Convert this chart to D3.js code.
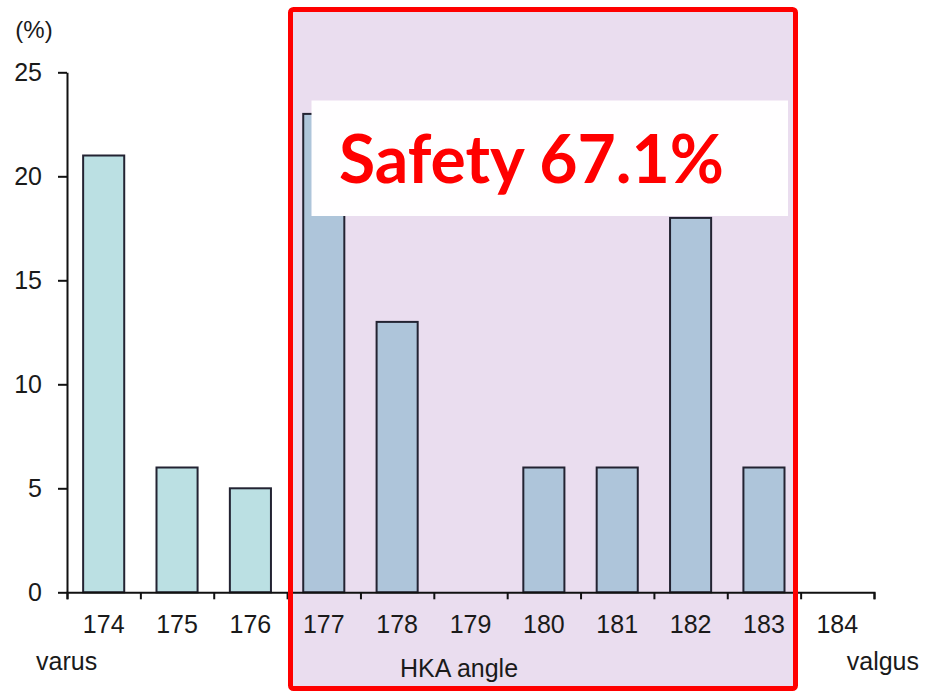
<!DOCTYPE html>
<html>
<head>
<meta charset="utf-8">
<script src="https://cdn.jsdelivr.net/npm/d3@7"></script>
<style>
  html, body { margin: 0; padding: 0; background: #fff; }
  svg { display: block; }
  .axis text { font-family: "Liberation Sans", Arial, sans-serif; font-size: 25px; fill: #1a1a1a; }
  .axis path, .axis line { stroke: #111; stroke-width: 2; }
</style>
</head>
<body>
<script>
// HKA angle distribution (percent of knees per angle)
const categories = ["174", "175", "176", "177", "178", "179", "180", "181", "182", "183", "184"];
const percents   = [21, 6, 5, 23, 13, 0, 6, 6, 18, 6, 0];
const safeRange  = ["177", "183"];          // angles counted as the safety zone
const yTicks     = [0, 5, 10, 15, 20, 25];
const safetyLabel = "Safety 67.1%";

const W = 925, H = 691;
const svg = d3.select("body").append("svg").attr("width", W).attr("height", H);

const x = d3.scaleBand().domain(categories).range([67, 874]).padding(0);
const y = d3.scaleLinear().domain([0, 25]).range([592.3, 72.3]);
const edges = d3.scaleLinear().domain([0, categories.length]).range(x.range());

const inSafe = c => +c >= +safeRange[0] && +c <= +safeRange[1];

// shaded safety zone
svg.append("rect")
  .attr("x", 290.5).attr("y", 9.5)
  .attr("width", 505).attr("height", 679)
  .attr("fill", "#EADDEF");

// bars
const barW = x.bandwidth() * 0.56;
svg.append("g").selectAll("rect")
  .data(categories.map((c, i) => ({ c, v: percents[i] })).filter(d => d.v > 0))
  .join("rect")
  .attr("x", d => x(d.c) + (x.bandwidth() - barW) / 2)
  .attr("y", d => y(d.v))
  .attr("width", barW)
  .attr("height", d => y(0) - y(d.v))
  .attr("fill", d => inSafe(d.c) ? "#AEC5DA" : "#BBE0E3")
  .attr("stroke", "#232332")
  .attr("stroke-width", 2);

// y axis
svg.append("g").attr("class", "axis")
  .attr("transform", "translate(67,0)")
  .call(d3.axisLeft(y).tickValues(yTicks).tickSize(9).tickSizeOuter(0).tickPadding(16));

// x axis line with ticks at category boundaries
svg.append("g").attr("class", "axis")
  .attr("transform", `translate(0,${y(0)})`)
  .call(d3.axisBottom(edges).tickValues(d3.range(categories.length + 1))
        .tickSize(7).tickSizeOuter(7).tickFormat(""));

// category labels centred under each band
const xLabels = svg.append("g").attr("class", "axis")
  .attr("transform", `translate(0,${y(0)})`)
  .call(d3.axisBottom(x).tickSize(0).tickPadding(23));
xLabels.select(".domain").remove();

// text labels
const txt = (s, xx, yy, anchor, size) => svg.append("text")
  .attr("x", xx).attr("y", yy).attr("text-anchor", anchor)
  .attr("font-family", "'Liberation Sans', Arial, sans-serif")
  .attr("font-size", size).attr("fill", "#1a1a1a").text(s);

txt("(%)", 34, 38, "middle", 24);
txt("varus", 36, 670, "start", 25);
txt("HKA angle", 459, 677, "middle", 25);
txt("valgus", 919, 670, "end", 25);

// label box
svg.append("rect")
  .attr("x", 311.5).attr("y", 100.5)
  .attr("width", 476.5).attr("height", 115.5)
  .attr("fill", "#FFFEFF");

svg.append("text")
  .attr("x", 339).attr("y", 183)
  .attr("font-family", "Lato, 'Open Sans', sans-serif")
  .attr("font-weight", "bold")
  .attr("font-size", 66)
  .attr("fill", "#FF0000")
  .attr("textLength", 385)
  .attr("lengthAdjust", "spacingAndGlyphs")
  .text(safetyLabel);

// red frame around the safety zone
svg.append("rect")
  .attr("x", 290.5).attr("y", 9.5)
  .attr("width", 505).attr("height", 679)
  .attr("rx", 3)
  .attr("fill", "none")
  .attr("stroke", "#FF0000")
  .attr("stroke-width", 5);
</script>
</body>
</html>
